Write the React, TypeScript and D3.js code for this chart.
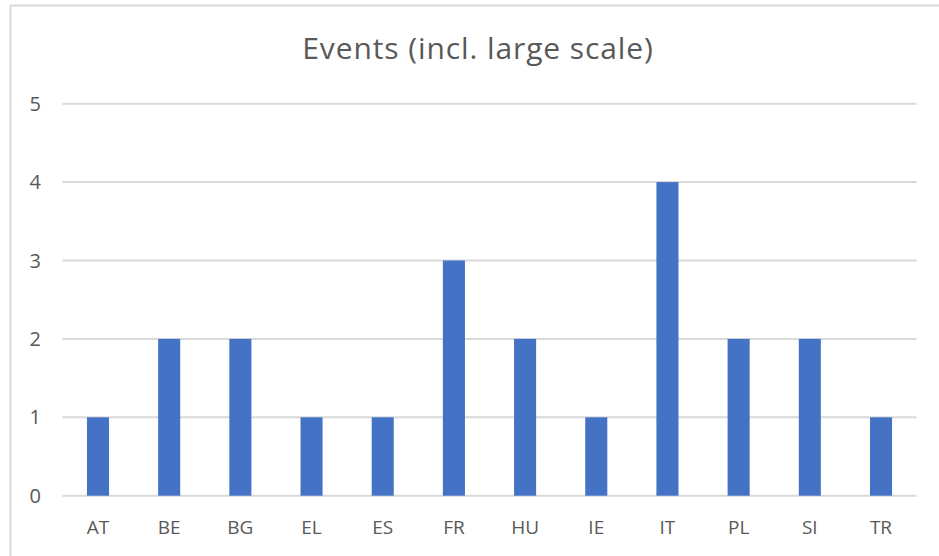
import React, { useEffect, useRef } from "react";
import * as d3 from "d3";

const countries = ["AT", "BE", "BG", "EL", "ES", "FR", "HU", "IE", "IT", "PL", "SI", "TR"];
const events = [1, 2, 2, 1, 1, 3, 2, 1, 4, 2, 2, 1];
const yTicks = [0, 1, 2, 3, 4, 5];
const title = "Events (incl. large scale)";

const W = 939;
const H = 556;

export default function App() {
  const ref = useRef<SVGSVGElement>(null);

  useEffect(() => {
    const svg = d3.select(ref.current);
    svg.selectAll("*").remove();

    const left = 62.4, right = 916.6, top = 103.7, bottom = 495.7;
    const font = "'Open Sans', 'Noto Sans', sans-serif";

    // chart frame (only top/left edges show in the crop)
    svg.append("rect").attr("width", W).attr("height", H).attr("fill", "#fff");
    svg.append("line").attr("x1", 10).attr("x2", W).attr("y1", 5.5).attr("y2", 5.5)
      .attr("stroke", "#d9d9d9").attr("stroke-width", 2);
    svg.append("line").attr("x1", 10.5).attr("x2", 10.5).attr("y1", 5).attr("y2", H)
      .attr("stroke", "#d9d9d9").attr("stroke-width", 2);

    const x = d3.scaleBand<string>().domain(countries).range([left, right]);
    const y = d3.scaleLinear().domain([0, 5]).range([bottom, top]);

    const g = svg.append("g");

    g.selectAll(".grid")
      .data(yTicks)
      .enter()
      .append("line")
      .attr("x1", left)
      .attr("x2", right)
      .attr("y1", d => y(d))
      .attr("y2", d => y(d))
      .attr("stroke", "#d9d9d9")
      .attr("stroke-width", 2);

    g.selectAll(".ylab")
      .data(yTicks)
      .enter()
      .append("text")
      .attr("x", 41)
      .attr("y", d => y(d) + 7)
      .attr("text-anchor", "end")
      .attr("fill", "#595959")
      .style("font-family", font)
      .style("font-size", "20px")
      .text(d => d);

    const bw = x.bandwidth() * 0.31;
    g.selectAll(".bar")
      .data(events)
      .enter()
      .append("rect")
      .attr("x", (d, i) => x(countries[i])! + x.bandwidth() / 2 - bw / 2)
      .attr("y", d => y(d))
      .attr("width", bw)
      .attr("height", d => bottom - y(d))
      .attr("fill", "#4472c4");

    g.selectAll(".xlab")
      .data(countries)
      .enter()
      .append("text")
      .attr("x", d => x(d)! + x.bandwidth() / 2)
      .attr("y", 534)
      .attr("text-anchor", "middle")
      .attr("fill", "#595959")
      .style("font-family", font)
      .style("font-size", "19px")
      .text(d => d);

    svg.append("text")
      .attr("x", 478)
      .attr("y", 59)
      .attr("text-anchor", "middle")
      .attr("fill", "#595959")
      .style("font-family", font)
      .style("font-size", "30px")
      .style("letter-spacing", "0.9px")
      .text(title);
  }, []);

  return (
    <svg
      ref={ref}
      width={W}
      height={H}
      style={{ position: "absolute", left: 0, top: 0, display: "block" }}
    />
  );
}
